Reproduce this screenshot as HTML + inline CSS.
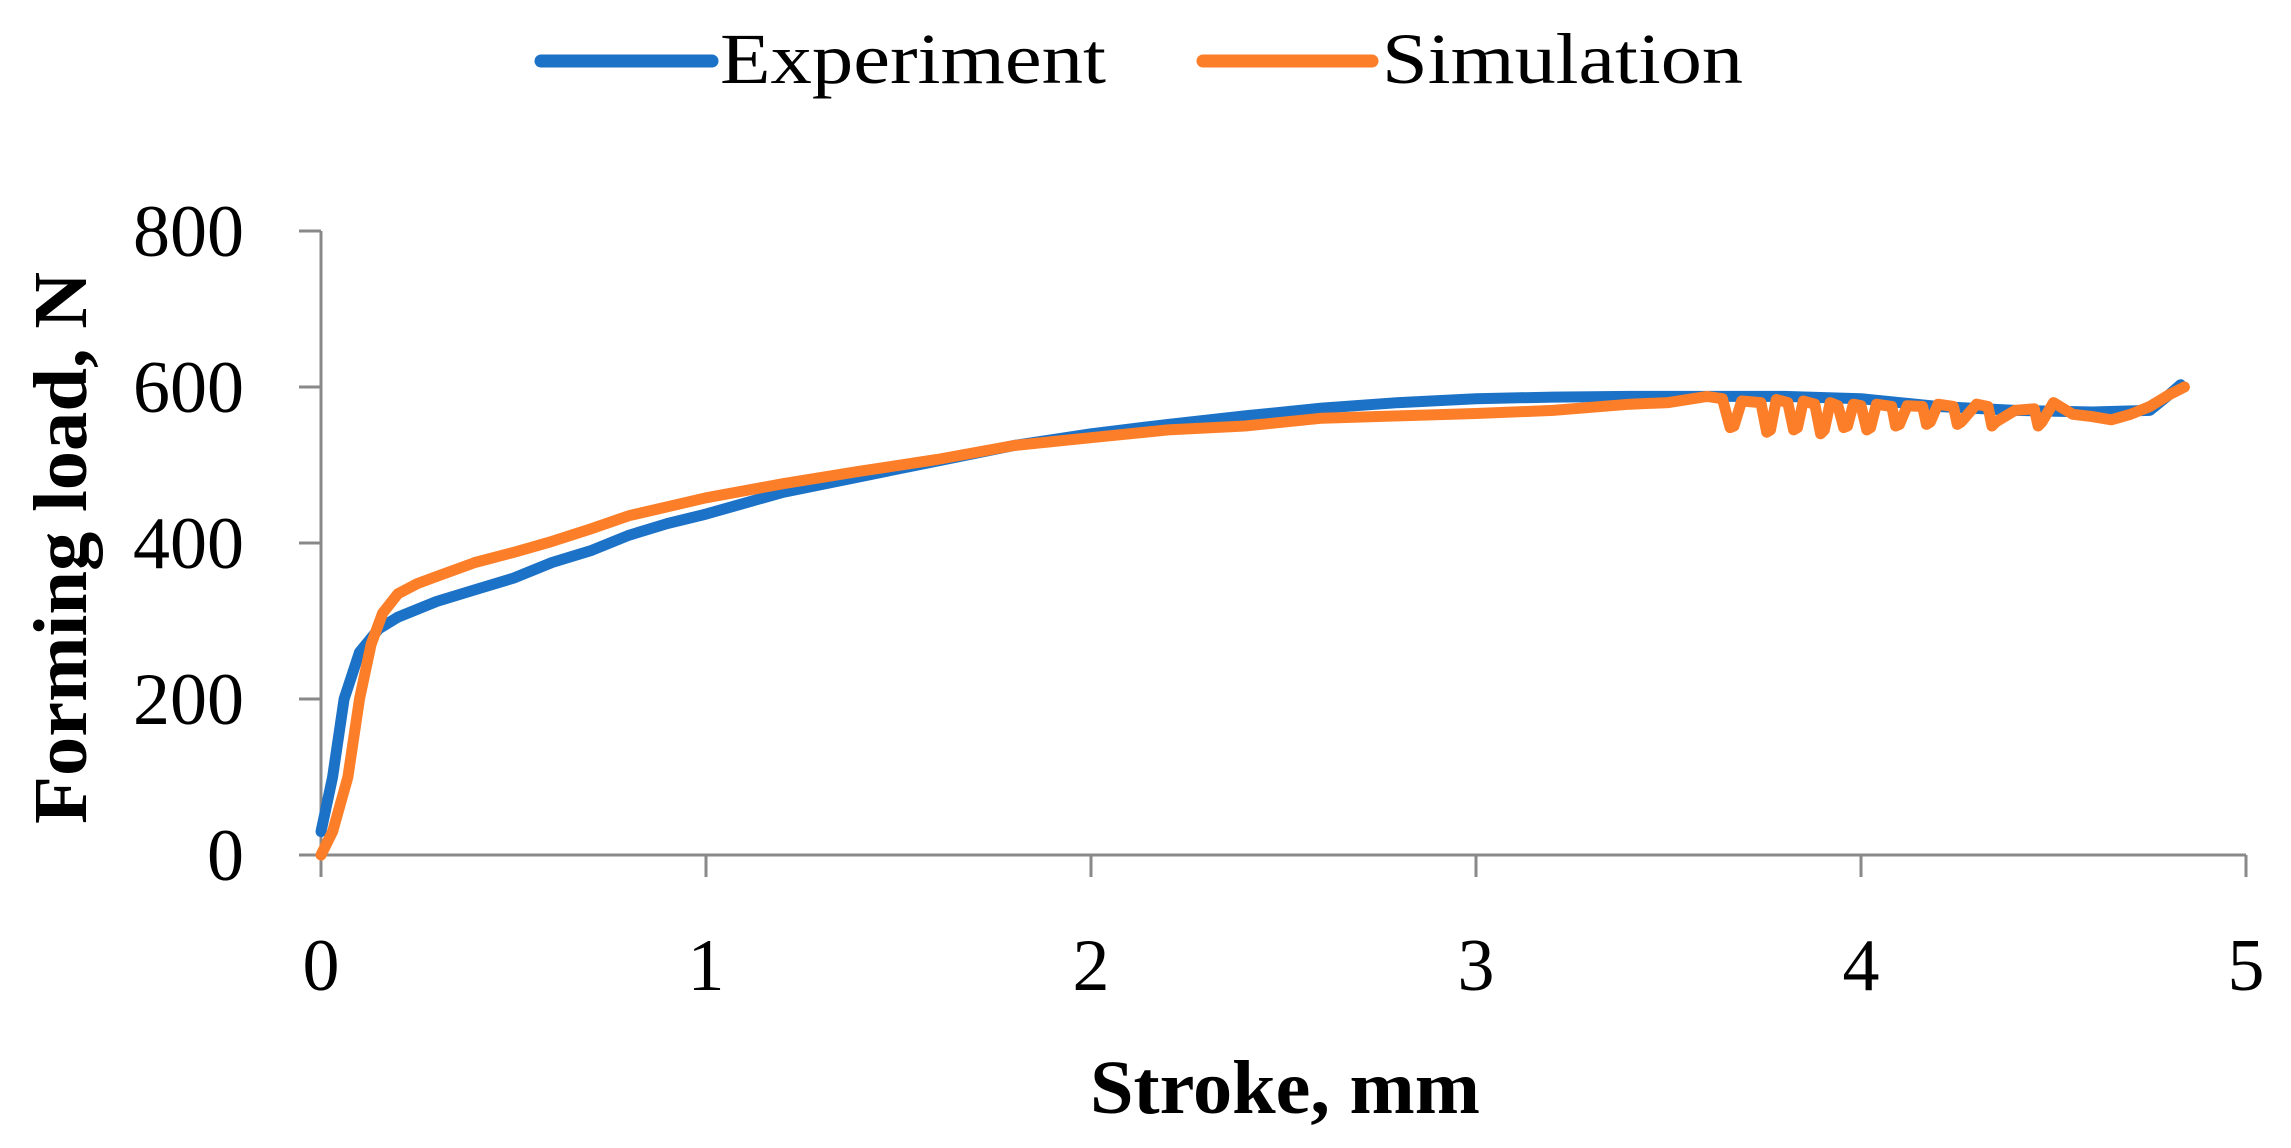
<!DOCTYPE html>
<html><head><meta charset="utf-8"><style>
html,body{margin:0;padding:0;background:#fff;}
svg{display:block;font-family:"Liberation Serif",serif;}
</style></head><body>
<svg id="chart" width="2291" height="1148" viewBox="0 0 2291 1148">
<g>
 <g>
  <line x1="541" y1="61" x2="712" y2="61" stroke="#1c72c6" stroke-width="13" stroke-linecap="round"/>
  <text x="720" y="83" font-size="72" textLength="386" lengthAdjust="spacingAndGlyphs">Experiment</text>
 </g>
 <g>
  <line x1="1203" y1="61" x2="1372" y2="61" stroke="#fd7e28" stroke-width="13" stroke-linecap="round"/>
  <text x="1382" y="83" font-size="72" textLength="361" lengthAdjust="spacingAndGlyphs">Simulation</text>
 </g>
</g>
<g id="axes"></g>
<g id="series"></g>
<text transform="translate(86,548) rotate(-90)" text-anchor="middle" font-size="76" font-weight="bold" textLength="552" lengthAdjust="spacingAndGlyphs">Forming load, N</text>
<text x="1285" y="1113" text-anchor="middle" font-size="76" font-weight="bold" textLength="390" lengthAdjust="spacingAndGlyphs">Stroke, mm</text>
</svg>
<script>
const xTicks=[0,1,2,3,4,5];
const yTicks=[0,200,400,600,800];
const expX=[0,0.03,0.06,0.1,0.15,0.2,0.3,0.4,0.5,0.6,0.7,0.8,0.9,1.0,1.2,1.4,1.6,1.8,2.0,2.2,2.4,2.6,2.8,3.0,3.2,3.4,3.6,3.8,4.0,4.2,4.4,4.6,4.75,4.8,4.83];
const expY=[30,100,200,260,290,305,325,340,355,375,390,410,425,437,465,485,505,525,540,552,563,573,580,585,587,588,588,588,585,575,570,568,570,590,603];
const simX=[0,0.03,0.07,0.1,0.13,0.16,0.2,0.25,0.3,0.4,0.5,0.6,0.7,0.8,1.0,1.2,1.4,1.6,1.8,2.0,2.2,2.4,2.6,2.8,3.0,3.2,3.4,3.5,3.6,3.64,3.66,3.67,3.69,3.74,3.755,3.765,3.78,3.81,3.825,3.835,3.85,3.88,3.895,3.905,3.92,3.94,3.955,3.965,3.98,4.0,4.015,4.025,4.04,4.08,4.09,4.1,4.12,4.16,4.17,4.18,4.2,4.24,4.25,4.26,4.3,4.33,4.34,4.35,4.4,4.45,4.46,4.47,4.5,4.55,4.6,4.65,4.7,4.75,4.8,4.84];
const simY=[0,30,100,200,270,310,335,348,357,375,388,402,418,435,458,476,492,507,525,535,545,550,560,563,566,570,578,580,588,585,548,550,582,580,542,545,584,580,545,548,582,578,540,545,580,576,548,550,578,576,545,548,578,575,550,552,576,575,552,555,578,575,552,555,578,575,550,555,570,572,550,555,580,565,562,558,565,575,590,600];

const X0=321,XU=385,Y0=855,YU=(855-231)/800;
function sx(v){return X0+v*XU;}
function sy(v){return Y0-v*YU;}
const NS="http://www.w3.org/2000/svg";
const axes=document.getElementById('axes');
function mk(tag,attrs,parent){const e=document.createElementNS(NS,tag);for(const k in attrs)e.setAttribute(k,attrs[k]);parent.appendChild(e);return e;}
let yl=mk('line',{x1:X0,y1:sy(800),x2:X0,y2:Y0+22,stroke:'#898989','stroke-width':3},axes);


let xl=mk('line',{x1:X0-22,y1:Y0,x2:sx(5),y2:Y0,stroke:'#898989','stroke-width':3},axes);


yTicks.forEach(v=>{
 const t=mk('line',{x1:X0-22,y1:sy(v),x2:X0,y2:sy(v),stroke:'#898989','stroke-width':3},axes);
 
 
 const l=mk('text',{x:244,y:sy(v)+25,'text-anchor':'end','font-size':74},axes);
 
 
 l.textContent=v;
});
xTicks.forEach(v=>{
 const t=mk('line',{x1:sx(v),y1:Y0,x2:sx(v),y2:Y0+22,stroke:'#898989','stroke-width':3},axes);
 
 
 const l=mk('text',{x:sx(v),y:990,'text-anchor':'middle','font-size':74},axes);
 
 
 l.textContent=v;
});
const series=document.getElementById('series');
function path(xs,ys,color,name){
 const n=Math.min(xs.length,ys.length);
 let d='';
 for(let i=0;i<n;i++)d+=(i?'L':'M')+sx(xs[i]).toFixed(1)+','+sy(ys[i]).toFixed(1)+' ';
 const p=mk('path',{d:d,fill:'none',stroke:color,'stroke-width':11,'stroke-linejoin':'round','stroke-linecap':'round'},series);
 
 
}
path(expX,expY,'#1c72c6','experiment-line');
path(simX,simY,'#fd7e28','simulation-line');
</script>
</body></html>
